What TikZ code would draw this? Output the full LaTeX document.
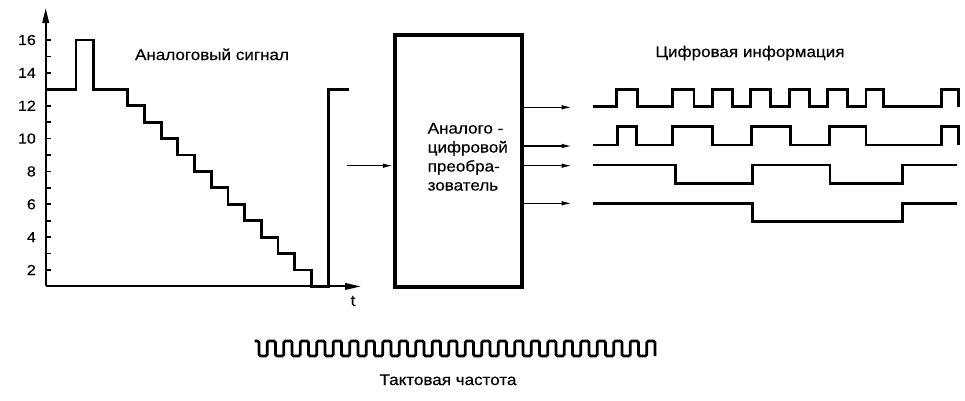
\documentclass[tikz,border=0pt]{standalone}
\usepackage{fontspec}
\setmainfont{Liberation Sans}[FakeStretch=1.1, FakeBold=0.4]
\usetikzlibrary{arrows.meta}
\begin{document}
\begin{tikzpicture}[x=1pt,y=-1pt,
  declare function={yv(\v)=270-(\v-2)*16.43;},
  lbl/.style={font=\fontsize{15.5}{18}\selectfont, inner sep=0pt},
  axisline/.style={line width=2pt},
  sig/.style={line width=2.8pt, line join=miter},
  wave/.style={line width=2.7pt},
  clk/.style={line width=2.6pt, rounded corners=1.5pt},
  conn/.style={line width=1.2pt, -{Latex[length=10pt,width=4.5pt]}},
  adcbox/.style={draw, line width=4pt, minimum width=126.7pt, minimum height=251.7pt, inner sep=0pt}
]
\useasboundingbox[fill=white] (0,0) rectangle (965,400);

% ---- axes
\coordinate (origin) at (45.7,{yv(1)});
\coordinate (ytip) at (45.7,8);
\coordinate (xtip) at (361,{yv(1)});
\draw[axisline,-{Triangle[length=15pt,width=6.5pt]}] (origin) -- (ytip);
\draw[axisline,-{Triangle[length=16pt,width=6.5pt]}] (origin) -- (xtip);
\foreach \v in {2,...,16} \draw[line width=1.6pt] (45.7,{yv(\v)}) -- ++(5,0);
\foreach \v in {2,4,...,16} \node[lbl, anchor=east] (tick\v) at (36,{yv(\v)}) {\fontsize{14.5}{17}\selectfont\v};
\node[lbl] (tlabel) at (353,301) {t};
\node[lbl, anchor=base] (atitle) at (212,60) {Аналоговый сигнал};

% ---- staircase signal
\draw[sig] (45.7,{yv(13)}) -| (76,{yv(16)}) -| (93.3,{yv(13)}) -| (127.7,{yv(12)})
  -| (144.4,{yv(11)}) -| (161.1,{yv(10)}) -| (177.8,{yv(9)}) -| (194.5,{yv(8)})
  -| (211.2,{yv(7)}) -| (227.9,{yv(6)}) -| (244.6,{yv(5)}) -| (261.3,{yv(4)})
  -| (278,{yv(3)}) -| (294.7,{yv(2)}) -| (311.4,{yv(1)}) -| (328.1,{yv(13)}) -- (349.3,{yv(13)});

% ---- converter
\node[adcbox] (adc) at (458.3,160.8) {};
\node[lbl, anchor=base west] (c1) at (427.5,133.5) {Аналого -};
\node[lbl, anchor=base west] (c2) at (427.5,152.5) {цифровой};
\node[lbl, anchor=base west] (c3) at (427.5,171.5) {преобра-};
\node[lbl, anchor=base west] (c4) at (427.5,190.5) {зователь};

\coordinate (in) at (346.7,165.7);
\draw[conn] (in) -- (adc.west |- in);
\coordinate (o1) at (571.7,107.3);
\coordinate (o2) at (571.7,146);
\coordinate (o3) at (571.7,165.7);
\coordinate (o4) at (571.7,203.3);
\foreach \o in {o1,o2,o3,o4} \draw[conn] (adc.east |- \o) -- (\o);

% ---- digital outputs
\node[lbl, anchor=base] (dtitle) at (750,57) {Цифровая информация};
\def\H{89.3}\def\L{106.7}
\draw[wave] (592.7,\L) -| (616.7,\H) -| (637.3,\L) -| (672.7,\H) -| (694,\L) -| (712.7,\H)
  -| (732.7,\L) -| (750.7,\H) -| (770.7,\L) -| (789.3,\H) -| (809.3,\L) -| (827.7,\H)
  -| (847.7,\L) -| (866,\H) -| (883.3,\L) -| (941.7,\H) -| (958.3,\L);
\def\H{126.7}\def\L{145}
\draw[wave] (592.7,\L) -| (617.3,\H) -| (636.7,\L) -| (672.7,\H) -| (712.7,\L) -| (751.7,\H)
  -| (790.7,\L) -| (829.3,\H) -| (866,\L) -| (941.7,\H) -| (958.3,\L);
\def\H{165}\def\L{183.3}
\draw[wave] (592.7,\H) -| (675.7,\L) -| (752.7,\H) -| (830,\L) -| (902.7,\H) -- (956.7,\H);
\def\H{203.3}\def\L{221.7}
\draw[wave] (592.7,\H) -| (752.7,\L) -| (902.7,\H) -- (956.7,\H);

% ---- clock
\def\T{341}\def\B{356}
\draw[clk] (254.5,\T) \foreach \k in {0,...,23} { -| ({259+\k*16.5},\B) -| ({267.25+\k*16.5},\T) } -| (655,\B);
\node[lbl, anchor=base] (clktitle) at (448,385) {Тактовая частота};
\end{tikzpicture}
\end{document}
